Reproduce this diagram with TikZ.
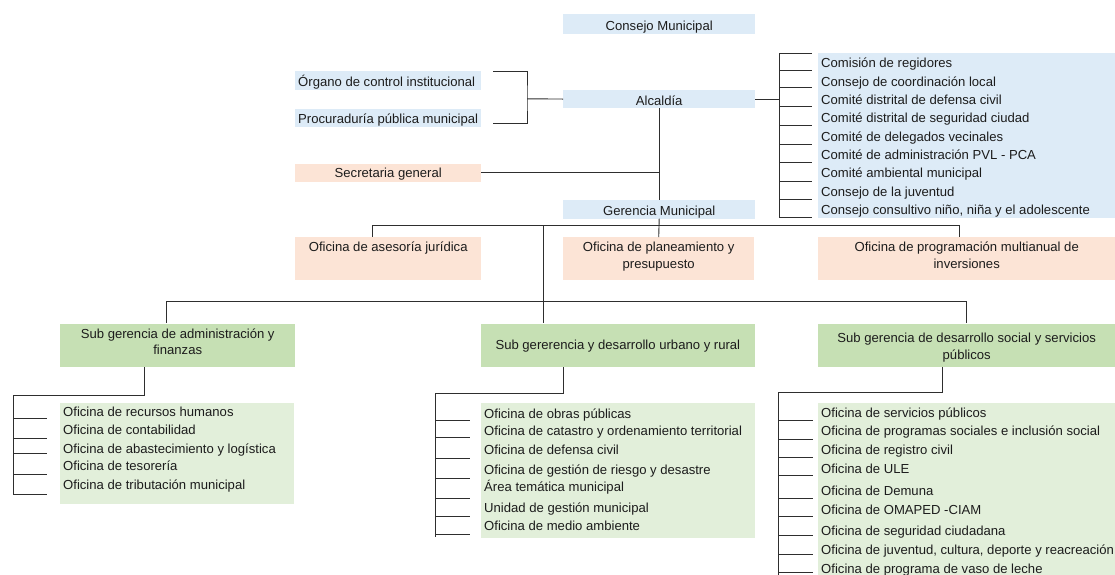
\documentclass[tikz,border=0pt]{standalone}
\usepackage{fontspec}
\setmainfont{Liberation Sans}
\definecolor{bl}{HTML}{DDEBF7}
\definecolor{pe}{HTML}{FCE4D6}
\definecolor{gd}{HTML}{C6E0B4}
\definecolor{gl}{HTML}{E2EFDA}
\definecolor{ln}{HTML}{2E2E2E}
\definecolor{tx}{HTML}{1C1C1C}
\newcommand\fsz{\fontsize{13.1pt}{16.7pt}\selectfont}
\newcommand\tS[1]{\rule{0pt}{#1pt}}
\newcommand\bS[1]{\rule[-#1pt]{0pt}{#1pt}}
\tikzset{
  box/.style={anchor=north west, inner xsep=0pt, inner ysep=0pt, font=\fsz, text=tx, align=center},
  panel/.style={anchor=north west, inner sep=0pt},
  item/.style={anchor=base west, inner sep=0pt, font=\fsz, text=tx},
  conn/.style={draw=ln, line width=0.9pt},
}
\begin{document}
\begin{tikzpicture}[x=1pt,y=-1pt]
\fill[white] (0,0) rectangle (1115,574);
\useasboundingbox (0,0) rectangle (1115,574);

% ---- top level boxes
\node[box, fill=bl, minimum width=192pt] (cm) at (563,14) {\tS{16.2}Consejo Municipal\bS{3.1}};
\node[box, fill=bl, minimum width=192pt] (alc) at (563,90) {\tS{14.9}Alcaldía\bS{2.8}};
\node[box, fill=bl, minimum width=192pt] (ger) at (563,200) {\tS{14.9}Gerencia Municipal\bS{3.4}};
\node[box, fill=bl, minimum width=186pt] (org) at (295,71) {\makebox[180pt][l]{\tS{15.4}Órgano de control institucional\bS{3.1}}};
\node[box, fill=bl, minimum width=186pt] (proc) at (295,108.3) {\makebox[180pt][l]{\tS{14.7}Procuraduría pública municipal\bS{3.8}}};
\node[box, fill=pe, minimum width=186pt] (sec) at (295,163.3) {\tS{14.1}Secretaria general\bS{4.4}};

% ---- offices
\node[box, fill=pe, minimum width=186pt] (ase) at (295,237) {\tS{14.7}Oficina de asesoría jurídica\bS{27.8}};
\node[box, fill=pe, minimum width=191pt] (pla) at (563,237) {\tS{14.5}Oficina de planeamiento y\\presupuesto\bS{11.3}};
\node[box, fill=pe, minimum width=297pt] (pro) at (818,237) {\tS{14.5}Oficina de programación multianual de\\inversiones\bS{11.3}};

% ---- sub gerencias
\node[box, fill=gd, minimum width=235pt] (sga) at (60,323.3) {\tS{14.7}Sub gerencia de administración y\\finanzas\bS{12.0}};
\node[box, fill=gd, minimum width=273.3pt] (sgu) at (481,323.3) {\tS{26.4}Sub gererencia y desarrollo urbano y rural\bS{17.0}};
\node[box, fill=gd, minimum width=297pt] (sgs) at (818,323.3) {\tS{19.1}Sub gerencia de desarrollo social y servicios\\públicos\bS{7.6}};

% ---- list panels
\node[panel, fill=bl, minimum width=297pt, minimum height=165pt] (comlist) at (818,53) {};
\node[panel, fill=gl, minimum width=234pt, minimum height=101pt] (la) at (60,402.3) {};
\node[panel, fill=gl, minimum width=274pt, minimum height=135pt] (lu) at (481,403) {};
\node[panel, fill=gl, minimum width=297pt, minimum height=176pt] (ls) at (818,403) {};

% ---- list items: commissions
\node[item] (c1) at (821,67.7) {Comisión de regidores};
\node[item] (c2) at (821,86.05) {Consejo de coordinación local};
\node[item] (c3) at (821,104.4) {Comité distrital de defensa civil};
\node[item] (c4) at (821,122.75) {Comité distrital de seguridad ciudad};
\node[item] (c5) at (821,141.1) {Comité de delegados vecinales};
\node[item] (c6) at (821,159.45) {Comité de administración PVL - PCA};
\node[item] (c7) at (821,177.8) {Comité ambiental municipal};
\node[item] (c8) at (821,196.15) {Consejo de la juventud};
\node[item] (c9) at (821,214.5) {Consejo consultivo niño, niña y el adolescente};

% ---- list items: administración
\node[item] (a1t) at (63,416.7) {Oficina de recursos humanos};
\node[item] (a2t) at (63,434.7) {Oficina de contabilidad};
\node[item] (a3t) at (63,453.0) {Oficina de abastecimiento y logística};
\node[item] (a4t) at (63,470.4) {Oficina de tesorería};
\node[item] (a5t) at (63,489.7) {Oficina de tributación municipal};

% ---- list items: urbano
\node[item] (u1) at (484,418.0) {Oficina de obras públicas};
\node[item] (u2) at (484,435.7) {Oficina de catastro y ordenamiento territorial};
\node[item] (u3) at (484,454.7) {Oficina de defensa civil};
\node[item] (u4) at (484,474.0) {Oficina de gestión de riesgo y desastre};
\node[item] (u5) at (484,491.4) {Área temática municipal};
\node[item] (u6) at (484,512.4) {Unidad de gestión municipal};
\node[item] (u7) at (484,530.7) {Oficina de medio ambiente};

% ---- list items: social
\node[item] (s1) at (821,417.0) {Oficina de servicios públicos};
\node[item] (s2) at (821,435.7) {Oficina de programas sociales e inclusión social};
\node[item] (s3) at (821,454.0) {Oficina de registro civil};
\node[item] (s4) at (821,473.0) {Oficina de ULE};
\node[item] (s5) at (821,495.4) {Oficina de Demuna};
\node[item] (s6) at (821,514.7) {Oficina de OMAPED -CIAM};
\node[item] (s7) at (821,535.7) {Oficina de seguridad ciudadana};
\node[item] (s8) at (821,554.7) {Oficina de juventud, cultura, deporte y reacreación};
\node[item] (s9) at (821,573.0) {Oficina de programa de vaso de leche};

% ---- connectors: bracket of control bodies
\coordinate (bt) at (493,71);
\coordinate (bb) at (493,123);
\coordinate (j1) at (527,98.8);
\draw[conn] (bt) -| (j1) |- (bb);
\draw[conn] (j1) -- (alc.west);

% ---- Alcaldía to Gerencia and Secretaría
\draw[conn] (alc.south) -- (ger.north);
\draw[conn] (sec.east) -- (sec.east -| alc.south);

% ---- Alcaldía to commissions
\coordinate (rt) at (779,53.3);
\coordinate (rb) at (779,217.3);
\draw[conn] (alc.east) -- (alc.east -| rt);
\draw[conn] (rt) -- (rb);
\foreach \yy [count=\i] in {53.3,70,87.7,106.7,125,144,162.7,181,199.3,217.3} {
  \coordinate (rs\i) at (779,\yy);
  \coordinate (re\i) at (812,\yy);
  \draw[conn] (rs\i) -- (re\i);
}

% ---- first bus under Gerencia
\coordinate (b1) at (372,225);
\coordinate (b2) at (959,225);
\coordinate (b3) at (543.5,225);
\draw[conn] (b1) -- (b2);
\draw[conn] (b1) -- (b1 |- ase.north);
\draw[conn] (ger.south) -- (pla.north);
\draw[conn] (b2) -- (b2 |- pro.north);
\draw[conn] (b3) -- (b3 |- sgu.north);

% ---- second bus
\coordinate (d1) at (166.5,301);
\coordinate (d2) at (sgs.north |- d1);
\draw[conn] (d1) -- (d2) -- (sgs.north);
\draw[conn] (d1) -- (d1 |- sga.north);

% ---- administración list
\coordinate (ak) at (144,395);
\coordinate (al) at (13,395);
\coordinate (am) at (13,495);
\draw[conn] (sga.south -| ak) -- (ak) -- (al) -- (am);
\foreach \yy [count=\i] in {418,438,453,474,494} {
  \coordinate (as\i) at (13,\yy);
  \coordinate (ae\i) at (47,\yy);
  \draw[conn] (as\i) -- (ae\i);
}

% ---- urbano list
\coordinate (uk) at (563,393);
\coordinate (ul) at (435,393);
\coordinate (um) at (435,537);
\draw[conn] (sgu.south -| uk) -- (uk) -- (ul) -- (um);
\foreach \yy [count=\i] in {420,437.3,458.3,478.3,498.3,516.7,534} {
  \coordinate (us\i) at (435,\yy);
  \coordinate (ue\i) at (470,\yy);
  \draw[conn] (us\i) -- (ue\i);
}

% ---- social list
\coordinate (sk) at (942,392);
\coordinate (sl) at (778,392);
\coordinate (sm) at (778,580);
\draw[conn] (sgs.south -| sk) -- (sk) -- (sl) -- (sm);
\foreach \yy [count=\i] in {420.7,439.3,457.3,475,498.3,516.7,535,554,572} {
  \coordinate (ss\i) at (778,\yy);
  \coordinate (se\i) at (813,\yy);
  \draw[conn] (ss\i) -- (se\i);
}
\end{tikzpicture}
\end{document}
